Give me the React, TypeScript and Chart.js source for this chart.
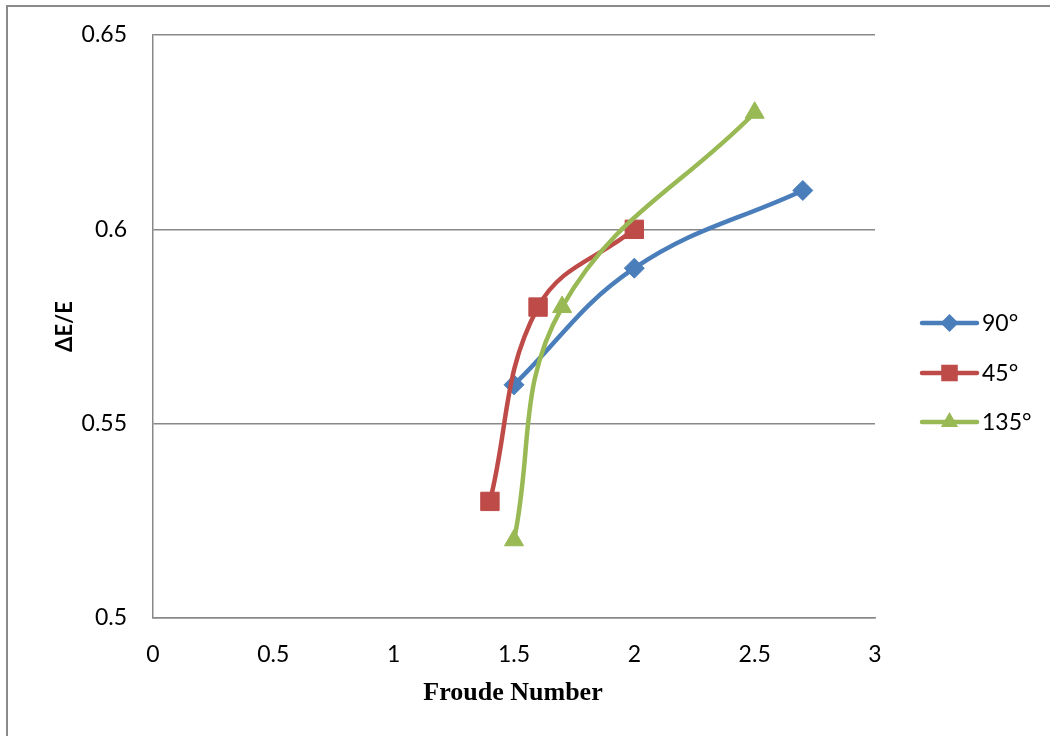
import React, { useEffect, useRef } from "react";
import { Chart, registerables } from "chart.js";

Chart.register(...registerables);

// Data
const seriesNames = ["90°", "45°", "135°"];
const froude90 = [1.5, 2, 2.7];
const ratio90 = [0.56, 0.59, 0.61];
const froude45 = [1.4, 1.6, 2];
const ratio45 = [0.53, 0.58, 0.6];
const froude135 = [1.5, 1.7, 2.5];
const ratio135 = [0.52, 0.58, 0.63];
const xTickValues = [0, 0.5, 1, 1.5, 2, 2.5, 3];
const yTickValues = [0.5, 0.55, 0.6, 0.65];
const xTitle = "Froude Number";
const yTitle = "ΔE/E";

const colors = ["#4A7EBB", "#BE4B48", "#98B954"];
const pointStyles = ["rectRot", "rect", "triangle"] as const;
const pointRadii = [10, 13, 11];

const SANS = "Lato, 'Open Sans', sans-serif";
const SERIF = "'Liberation Serif', 'Times New Roman', serif";

const toPoints = (xs: number[], ys: number[]) => xs.map((x, i) => ({ x, y: ys[i] }));

const customPlugin = {
  id: "customDecor",
  afterDraw(chart: any) {
    const ctx = chart.ctx as CanvasRenderingContext2D;
    const area = chart.chartArea;
    ctx.save();
    // axis titles
    ctx.fillStyle = "#000";
    ctx.textAlign = "center";
    ctx.textBaseline = "middle";
    ctx.font = `bold 26px ${SERIF}`;
    ctx.fillText(xTitle, 513, 693);
    ctx.save();
    ctx.translate(65, (area.top + area.bottom) / 2);
    ctx.rotate(-Math.PI / 2);
    ctx.font = `bold 22px ${SANS}`;
    ctx.fillText(yTitle, 0, 0);
    ctx.restore();

    // legend
    const legendY = [323, 373, 422];
    const x0 = 922;
    const x1 = 977;
    const cx = 949.5;
    seriesNames.forEach((name, i) => {
      const y = legendY[i];
      ctx.strokeStyle = colors[i];
      ctx.lineWidth = 4.5;
      ctx.lineCap = "round";
      ctx.beginPath();
      ctx.moveTo(x0, y);
      ctx.lineTo(x1, y);
      ctx.stroke();
      ctx.fillStyle = colors[i];
      const r = pointRadii[i] * 0.9;
      ctx.beginPath();
      if (pointStyles[i] === "rectRot") {
        ctx.moveTo(cx, y - r);
        ctx.lineTo(cx + r, y);
        ctx.lineTo(cx, y + r);
        ctx.lineTo(cx - r, y);
      } else if (pointStyles[i] === "rect") {
        const s = r * Math.SQRT1_2;
        ctx.rect(cx - s, y - s, 2 * s, 2 * s);
      } else {
        ctx.moveTo(cx, y - r);
        ctx.lineTo(cx + r * 0.866, y + r * 0.5);
        ctx.lineTo(cx - r * 0.866, y + r * 0.5);
      }
      ctx.closePath();
      ctx.fill();
      ctx.fillStyle = "#000";
      ctx.textAlign = "left";
      ctx.textBaseline = "middle";
      ctx.font = `23px ${SANS}`;
      ctx.fillText(name, 982, y + 1);
    });
    ctx.restore();
  },
};

export default function App() {
  const canvasRef = useRef<HTMLCanvasElement | null>(null);

  useEffect(() => {
    document.body.style.margin = "0";
    const canvas = canvasRef.current;
    if (!canvas) return;
    const xs = [froude90, froude45, froude135];
    const ys = [ratio90, ratio45, ratio135];
    const chart = new Chart(canvas, {
      type: "line",
      data: {
        datasets: seriesNames.map((name, i) => ({
          label: name,
          data: toPoints(xs[i], ys[i]),
          borderColor: colors[i],
          backgroundColor: colors[i],
          borderWidth: 4.5,
          tension: 0.4,
          pointStyle: pointStyles[i],
          pointRadius: pointRadii[i],
          pointHoverRadius: pointRadii[i],
          pointBorderWidth: 1,
          pointBorderColor: colors[i],
          pointBackgroundColor: colors[i],
          fill: false,
          order: 3 - i,
          clip: false,
        })),
      },
      options: {
        responsive: false,
        animation: false,
        events: [],
        layout: { autoPadding: false, padding: { left: 0, top: 35, right: 175, bottom: 0 } },
        plugins: {
          legend: { display: false },
          tooltip: { enabled: false },
          title: { display: false },
        },
        scales: {
          x: {
            type: "linear",
            min: 0,
            max: 3,
            afterFit: (scale: any) => {
              scale.height = 118;
              scale.paddingLeft = 0;
              scale.paddingRight = 0;
            },
            afterBuildTicks: (scale: any) => {
              scale.ticks = xTickValues.map((v) => ({ value: v }));
            },
            ticks: {
              padding: 23,
              color: "#000",
              font: { family: SANS, size: 23 },
              maxRotation: 0,
              callback: (v: any) => String(+Number(v).toFixed(2)),
            },
            grid: { display: false, drawTicks: false },
            border: { display: true, color: "#888", width: 1.5 },
          },
          y: {
            type: "linear",
            min: 0.5,
            max: 0.65,
            afterFit: (scale: any) => {
              scale.width = 153;
              scale.paddingTop = 0;
              scale.paddingBottom = 0;
            },
            afterBuildTicks: (scale: any) => {
              scale.ticks = yTickValues.map((v) => ({ value: v }));
            },
            ticks: {
              padding: 26,
              color: "#000",
              font: { family: SANS, size: 23 },
              callback: (v: any) => String(+Number(v).toFixed(2)),
            },
            grid: { color: "#888", lineWidth: 1.5, drawTicks: false },
            border: { display: true, color: "#888", width: 1.5 },
          },
        },
      },
      plugins: [customPlugin],
    } as any);
    return () => chart.destroy();
  }, []);

  return (
    <div
      style={{
        position: "fixed",
        left: 0,
        top: 0,
        width: 1050,
        height: 736,
        background: "#fff",
        overflow: "hidden",
      }}
    >
      <div
        style={{
          position: "absolute",
          left: 6,
          top: 5,
          width: 1100,
          height: 800,
          border: "2px solid #8a8a8a",
        }}
      />
      <canvas
        ref={canvasRef}
        width={1050}
        height={736}
        style={{ position: "absolute", left: 0, top: 0, width: 1050, height: 736 }}
      />
    </div>
  );
}
